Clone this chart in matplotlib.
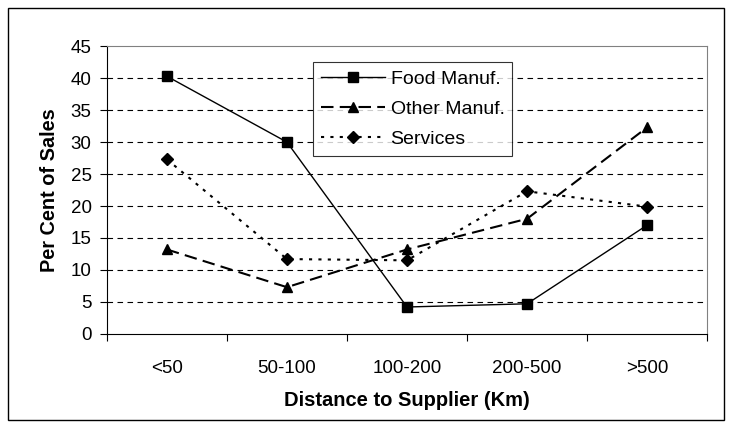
import matplotlib
matplotlib.use('Agg')
import matplotlib.pyplot as plt
from matplotlib.patches import Rectangle
import numpy as np

# Datos
categories = ['<50', '50-100', '100-200', '200-500', '>500']
food_manuf = [40.3, 30.0, 4.2, 4.7, 17.0]
other_manuf = [13.2, 7.3, 13.2, 18.0, 32.3]
services = [27.3, 11.7, 11.5, 22.3, 19.9]

plt.rcParams['font.family'] = ['Liberation Sans', 'DejaVu Sans']

fig = plt.figure(figsize=(7.32, 4.28), dpi=100)
ax = fig.add_axes([0.146, 0.22, 0.82, 0.672])

x = np.arange(len(categories))

ax.plot(x, food_manuf, color='black', linestyle='-', linewidth=1.0,
        marker='s', markersize=7, label='Food Manuf.')
ax.plot(x, other_manuf, color='black', linestyle=(0, (6, 3)), linewidth=1.5,
        marker='^', markersize=7, label='Other Manuf.')
ax.plot(x, services, color='black', linestyle=(0, (1.5, 3)), linewidth=1.5,
        marker='D', markersize=6, label='Services')

# Ejes
ax.set_xlim(-0.5, len(categories) - 0.5)
ax.set_ylim(0, 45)
ax.set_yticks(range(0, 50, 5))
ax.set_xticks(x)
ax.set_xticklabels(categories)
ax.set_xticks(np.arange(-0.5, len(categories), 1), minor=True)
ax.tick_params(axis='x', which='major', length=0, pad=19, labelsize=13.5)
ax.tick_params(axis='x', which='minor', length=5, direction='out', width=0.8)
ax.tick_params(axis='y', length=5, direction='out', width=0.8, labelsize=13.5, pad=6)

# Rejilla discontinua
for y in range(5, 45, 5):
    ax.axhline(y, color='black', linestyle=(0, (5, 4)), linewidth=0.8, zorder=0)

ax.spines['top'].set_color('#808080')
ax.spines['right'].set_color('#808080')
ax.spines['left'].set_color('black')
ax.spines['bottom'].set_color('black')

ax.set_xlabel('Distance to Supplier (Km)', fontsize=14.5, fontweight='bold', labelpad=10)
ax.set_ylabel('Per Cent of Sales', fontsize=14.3, fontweight='bold', labelpad=8)

leg = ax.legend(loc='upper left', bbox_to_anchor=(0.343, 0.944), fontsize=14,
                frameon=True, fancybox=False, edgecolor='black',
                handlelength=3.3, handletextpad=0.3, borderpad=0.4,
                labelspacing=0.65, borderaxespad=0)
leg.get_frame().set_linewidth(0.8)

# Borde exterior de la figura
fig.patches.append(Rectangle((0.011, 0.019), 0.978, 0.962, transform=fig.transFigure,
                             fill=False, edgecolor='black', linewidth=1.0))

fig.savefig('out.png', dpi=100)
